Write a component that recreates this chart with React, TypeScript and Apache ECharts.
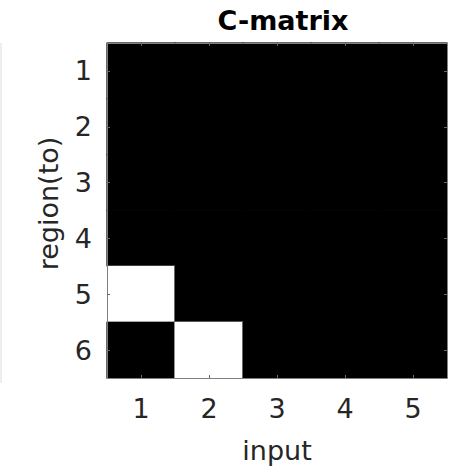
import React, { useEffect, useRef } from "react";
import * as echarts from "echarts";

const inputs = ["1", "2", "3", "4", "5"];
const regions = ["1", "2", "3", "4", "5", "6"];
// C-matrix values: rows = region(to), columns = input
const cRow1 = [0, 0, 0, 0, 0];
const cRow2 = [0, 0, 0, 0, 0];
const cRow3 = [0, 0, 0, 0, 0];
const cRow4 = [0, 0, 0, 0, 0];
const cRow5 = [1, 0, 0, 0, 0];
const cRow6 = [0, 1, 0, 0, 0];
const matrix = [cRow1, cRow2, cRow3, cRow4, cRow5, cRow6];

export default function App() {
  const ref = useRef<HTMLDivElement>(null);
  useEffect(() => {
    if (!ref.current) return;
    const chart = echarts.init(ref.current, undefined, { renderer: "svg" });
    const data: any[] = [];
    matrix.forEach((row, r) =>
      row.forEach((v, c) => {
        const col = v ? "#ffffff" : "#000000";
        data.push({ value: [c, r, v], itemStyle: { borderColor: col, borderWidth: 0.6 } });
      })
    );
    const font = "'DejaVu Sans', sans-serif";
    const axisColor = "#262626";
    const lineColor = "#808080";
    const tickStyle = { show: true, inside: true, length: 3, alignWithLabel: true, lineStyle: { color: "#666", width: 1 } };
    chart.setOption({
      animation: false,
      backgroundColor: "#ffffff",
      title: {
        text: "C-matrix",
        left: 278,
        textAlign: "center",
        top: 2,
        textStyle: { fontFamily: font, fontWeight: "bold", fontSize: 27, color: "#000" },
      },
      grid: { left: 107, top: 43, width: 340, height: 340, containLabel: false },
      xAxis: [
        {
          type: "category",
          data: inputs,
          position: "bottom",
          z: 5,
          name: "input",
          nameLocation: "middle",
          nameGap: 59,
          nameTextStyle: { fontFamily: font, fontSize: 27, color: axisColor },
          axisLine: { show: true, lineStyle: { color: lineColor, width: 1 } },
          axisTick: tickStyle,
          axisLabel: { fontFamily: font, fontSize: 27, color: axisColor, margin: 17 },
          splitLine: { show: false },
        },
        {
          type: "category",
          data: inputs,
          position: "top",
          z: 5,
          axisLine: { show: true, lineStyle: { color: lineColor, width: 1 } },
          axisTick: tickStyle,
          axisLabel: { show: false },
        },
      ],
      yAxis: [
        {
          type: "category",
          data: regions,
          inverse: true,
          position: "left",
          z: 5,
          name: "region(to)",
          nameLocation: "middle",
          nameGap: 45,
          nameRotate: 90,
          nameTextStyle: { fontFamily: font, fontSize: 27, color: axisColor, padding: [0, 0, 0, 14] },
          axisLine: { show: true, lineStyle: { color: lineColor, width: 1 } },
          axisTick: tickStyle,
          axisLabel: { fontFamily: font, fontSize: 27, color: axisColor, margin: 15 },
        },
        {
          type: "category",
          data: regions,
          inverse: true,
          position: "right",
          z: 5,
          axisLine: { show: true, lineStyle: { color: lineColor, width: 1 } },
          axisTick: tickStyle,
          axisLabel: { show: false },
        },
      ],
      visualMap: {
        show: false,
        type: "continuous",
        min: 0,
        max: 1,
        inRange: { color: ["#000000", "#ffffff"] },
      },
      series: [
        {
          type: "heatmap",
          xAxisIndex: 0,
          yAxisIndex: 0,
          data,
          z: 2,
        },
      ],
      graphic: [
        {
          type: "line",
          shape: { x1: 1, y1: 43, x2: 1, y2: 383 },
          style: { stroke: "#dddddd", lineWidth: 1 },
        },
      ],
    });
    return () => chart.dispose();
  }, []);
  return <div ref={ref} style={{ width: 449, height: 469, position: "absolute", left: 0, top: 0 }} />;
}
